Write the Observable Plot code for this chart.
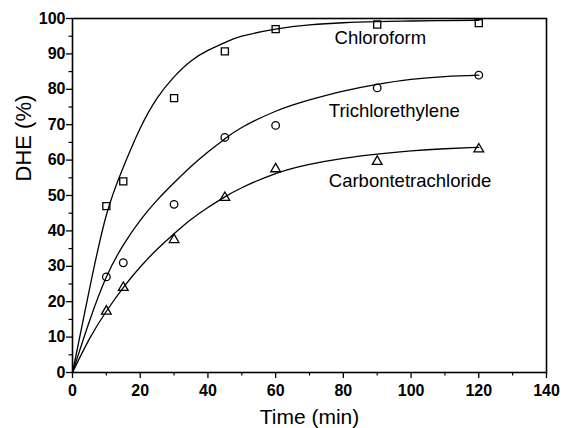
<!DOCTYPE html>
<html>
<head>
<meta charset="utf-8">
<script src="https://cdn.jsdelivr.net/npm/d3@7"></script>
<script src="https://cdn.jsdelivr.net/npm/@observablehq/plot@0.6"></script>
<style>
  html, body { margin: 0; padding: 0; background: #fff; }
  #chart svg { display: block; }
</style>
</head>
<body>
<div id="chart"></div>
<script>
// Measured points (time in min, DHE in %)
const times = [10, 15, 30, 45, 60, 90, 120];
const chloroform = [47, 54, 77.5, 90.7, 97, 98.3, 98.7];
const trichlorethylene = [27, 31, 47.5, 66.4, 69.8, 80.4, 84];
const carbontetrachloride = [17.3, 24, 37.5, 49.4, 57.5, 59.6, 63.1];

// Fitted curves
const fitTimes = [0, 5, 10, 15, 20, 25, 30, 35, 40, 45, 50, 60, 70, 80, 90, 100, 110, 120];
const chloroformFit = [0, 23.5, 44.5, 58, 69, 77.5, 83.5, 88, 91, 93.2, 95, 97, 98.2, 98.8, 99.1, 99.3, 99.4, 99.5];
const trichlorethyleneFit = [0, 14.5, 27, 36, 43, 48.7, 53.6, 58.2, 62.3, 66, 69.2, 73.8, 77, 79.5, 81.4, 82.8, 83.6, 84];
const carbontetrachlorideFit = [0, 9.5, 17.3, 24, 29.8, 34.8, 39.2, 43.2, 46.6, 49.6, 52.2, 56.2, 58.8, 60.5, 61.7, 62.6, 63.2, 63.6];

const seriesNames = ["Chloroform", "Trichlorethylene", "Carbontetrachloride"];
const symbols = ["square", "circle", "triangle"];
const symbolR = [4, 3.8, 3.6];
const labelX = [77.4, 75.7, 75.7];
const labelY = [92.7, 72.2, 52.5];

const xTicks = [0, 20, 40, 60, 80, 100, 120, 140];
const yTicks = [0, 10, 20, 30, 40, 50, 60, 70, 80, 90, 100];

const measured = [chloroform, trichlorethylene, carbontetrachloride];
const fits = [chloroformFit, trichlorethyleneFit, carbontetrachlorideFit];

const points = seriesNames.flatMap((s, i) => times.map((t, j) => ({series: s, i, t, v: measured[i][j]})));
const curves = seriesNames.flatMap((s, i) => fitTimes.map((t, j) => ({series: s, i, t, v: fits[i][j]})));
const labels = seriesNames.map((s, i) => ({text: s, x: labelX[i], y: labelY[i]}));

const font = "'Liberation Sans', Arial, Helvetica, sans-serif";

const chart = Plot.plot({
  width: 564,
  height: 428,
  marginLeft: 72,
  marginRight: 18,
  marginTop: 18,
  marginBottom: 56,
  style: {fontFamily: font, color: "#000", background: "#fff", overflow: "visible"},
  x: {domain: [0, 140]},
  y: {domain: [0, 100]},
  marks: [
    Plot.frame({stroke: "#000", strokeWidth: 1.6}),
    Plot.axisX({ticks: xTicks, tickSize: 6, tickPadding: 6, label: null, fontSize: 16, fontWeight: "bold", strokeWidth: 1.3}),
    Plot.axisX({ticks: d3.range(10, 140, 20), tickSize: 3.5, text: null, label: null, strokeWidth: 1.2}),
    Plot.axisY({ticks: yTicks, tickSize: 6, tickPadding: 1, label: null, fontSize: 16, fontWeight: "bold", strokeWidth: 1.3}),
    Plot.axisY({ticks: d3.range(5, 100, 10), tickSize: 3.5, text: null, label: null, strokeWidth: 1.2}),
    Plot.line(curves, {x: "t", y: "v", z: "series", curve: "natural", stroke: "#000", strokeWidth: 1.3}),
    ...seriesNames.map((s, i) => Plot.dot(points.filter(d => d.i === i), {
      x: "t", y: "v", symbol: () => symbols[i], r: symbolR[i], stroke: "#000", strokeWidth: 1.3, fill: "none"
    })),
    Plot.text(labels, {x: "x", y: "y", text: "text", textAnchor: "start", lineAnchor: "bottom", fontSize: 18.5, fill: "#000"}),
    Plot.text(["Time (min)"], {frameAnchor: "bottom", dy: 51, lineAnchor: "bottom", fontSize: 21, fill: "#000"}),
    Plot.text(["DHE (%)"], {frameAnchor: "left", dx: -49, dy: -14, rotate: -90, fontSize: 22, fill: "#000"})
  ]
});

document.getElementById("chart").appendChild(chart);
</script>
</body>
</html>
